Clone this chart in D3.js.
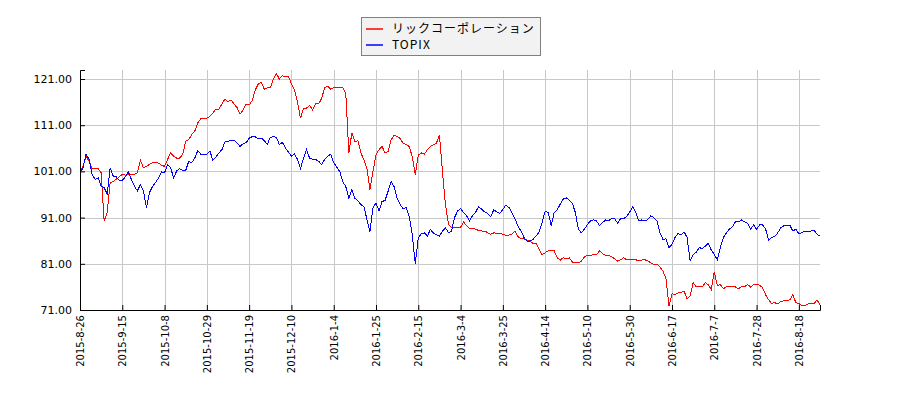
<!DOCTYPE html>
<html lang="ja">
<head>
<meta charset="UTF-8">
<title>リックコーポレーション vs TOPIX</title>
<script src="https://d3js.org/d3.v7.min.js"></script>
<style>
  body { margin: 0; background: #fff; }
  text { font-family: "DejaVu Sans", sans-serif; }
</style>
</head>
<body>
<script>
// relative price (start = 100ish), one value per trading day
const seriesNames = ['リックコーポレーション', 'TOPIX'];
const seriesColors = ['#ff0000', '#0000ff'];

const rickValues = [
  100.9, 102.1, 104.3, 103.2, 101.6, 101.6, 101.6, 100.7, 90.3, 92.1, 98.6, 98.8, 99.3, 99.8,
  100.4, 100.2, 100.4, 100.4, 100.4, 100.7, 103.4, 101.8, 102.1, 102.5, 102.9, 102.9, 102.8, 102.3,
  102.1, 103.6, 105.0, 104.3, 103.9, 103.9, 104.7, 107.5, 107.9, 109.0, 109.7, 111.5, 112.4, 112.5,
  112.5, 112.9, 113.6, 114.5, 114.5, 115.6, 116.7, 116.1, 116.5, 115.6, 114.8, 113.4, 114.3, 115.6,
  115.4, 116.3, 118.6, 119.9, 120.3, 118.8, 119.1, 119.1, 121.0, 122.2, 121.0, 121.7, 121.5, 121.6,
  119.9, 118.6, 116.1, 112.5, 114.7, 114.7, 115.3, 114.3, 115.6, 115.6, 116.8, 119.1, 119.4, 118.8,
  119.1, 119.2, 119.2, 119.2, 117.9, 105.0, 109.3, 107.5, 107.6, 105.0, 103.5, 101.7, 97.0, 101.0,
  104.6, 105.7, 106.4, 105.0, 105.3, 107.8, 108.8, 108.6, 108.1, 107.1, 106.8, 106.4, 104.2, 100.3,
  104.5, 105.0, 104.7, 105.7, 106.4, 106.8, 107.1, 108.9, 101.0, 93.8, 89.5, 88.8, 88.8, 88.8,
  88.9, 90.1, 89.2, 88.6, 88.7, 88.5, 88.2, 88.1, 88.1, 87.7, 87.4, 87.7, 87.6, 87.6,
  87.4, 87.2, 87.2, 87.4, 88.1, 86.9, 86.4, 86.4, 86.1, 85.9, 85.4, 85.4, 84.1, 83.0,
  83.4, 83.8, 83.8, 83.8, 82.3, 81.8, 82.3, 82.1, 82.3, 81.4, 81.2, 81.2, 81.6, 82.5,
  82.8, 82.8, 83.0, 83.0, 83.8, 83.2, 82.8, 82.8, 82.5, 82.1, 81.6, 81.9, 82.3, 81.9,
  81.9, 81.9, 81.9, 81.6, 81.8, 81.9, 81.6, 81.2, 80.9, 80.9, 80.3, 79.4, 77.9, 71.9,
  74.5, 74.3, 74.7, 74.8, 75.1, 73.4, 74.0, 76.9, 76.0, 76.0, 76.0, 76.9, 76.5, 75.4,
  79.3, 76.3, 76.5, 75.6, 76.0, 76.0, 76.0, 76.0, 75.6, 76.1, 76.0, 76.5, 76.0, 76.5,
  76.5, 76.4, 75.8, 74.3, 73.2, 72.4, 72.6, 72.3, 72.8, 73.0, 73.0, 73.2, 74.3, 72.6,
  72.4, 71.9, 71.9, 72.3, 72.4, 72.3, 73.2, 72.1
];

const topixValues = [
  100.7, 101.8, 104.7, 103.6, 100.4, 99.3, 99.6, 97.8, 97.5, 96.1, 101.8, 100.0, 99.8, 99.1,
  99.1, 99.8, 100.9, 99.3, 97.8, 96.8, 98.1, 96.8, 93.2, 96.4, 97.7, 98.6, 99.6, 100.9,
  100.7, 102.5, 101.8, 99.6, 101.1, 101.6, 101.2, 101.2, 103.2, 102.9, 103.9, 105.5, 104.7, 104.7,
  104.7, 105.4, 103.4, 104.1, 105.0, 105.7, 107.4, 107.5, 107.7, 107.7, 107.2, 106.4, 107.0, 107.2,
  108.2, 108.5, 108.5, 108.1, 108.2, 107.7, 106.8, 108.4, 108.5, 108.4, 106.8, 107.3, 106.1, 105.2,
  104.3, 104.8, 103.6, 101.6, 103.9, 105.7, 103.9, 103.6, 103.6, 103.2, 102.5, 103.6, 104.3, 104.7,
  102.9, 101.9, 101.0, 98.8, 97.7, 95.2, 97.0, 95.2, 94.7, 93.8, 93.4, 90.6, 88.0, 93.1,
  94.2, 92.4, 94.5, 94.7, 96.7, 98.8, 97.7, 95.2, 93.8, 92.9, 93.2, 91.3, 87.3, 81.0,
  86.6, 87.5, 87.7, 87.0, 88.4, 87.7, 87.3, 87.0, 88.1, 88.8, 87.7, 88.1, 91.0, 92.4,
  93.0, 92.1, 91.4, 90.3, 91.5, 92.2, 93.4, 92.8, 92.2, 91.9, 91.2, 92.7, 92.2, 91.9,
  92.8, 93.7, 93.2, 92.1, 90.8, 89.2, 88.1, 86.7, 85.9, 85.9, 86.3, 87.0, 87.9, 89.9,
  92.4, 92.1, 89.3, 92.1, 92.7, 93.9, 95.0, 95.3, 94.8, 94.1, 92.1, 88.5, 87.7, 88.5,
  89.5, 90.3, 90.5, 90.3, 89.3, 89.9, 90.5, 90.3, 90.8, 90.8, 89.8, 90.8, 90.8, 91.2,
  92.2, 93.4, 92.1, 90.3, 90.5, 90.3, 90.6, 91.4, 91.0, 90.3, 87.7, 86.3, 86.4, 84.5,
  85.2, 86.7, 87.6, 87.2, 87.9, 86.7, 81.6, 83.0, 83.5, 84.5, 84.3, 84.8, 85.4, 84.0,
  83.0, 81.9, 84.5, 86.7, 87.7, 88.5, 89.0, 90.1, 90.1, 90.5, 90.1, 89.8, 88.5, 89.4,
  88.5, 89.4, 89.4, 88.5, 86.1, 86.7, 86.9, 87.7, 88.8, 89.2, 89.2, 89.4, 88.1, 88.5,
  87.5, 87.7, 88.1, 87.9, 88.1, 88.3, 87.4, 87.0
];

// one label every 14 trading days, starting at day 0
const tickLabels = [
  '2015-8-26', '2015-9-15', '2015-10-8', '2015-10-29', '2015-11-19', '2015-12-10',
  '2016-1-4', '2016-1-25', '2016-2-15', '2016-3-4', '2016-3-25', '2016-4-14',
  '2016-5-10', '2016-5-30', '2016-6-17', '2016-7-7', '2016-7-28', '2016-8-18'
];
const tickStep = 14;
const yTickValues = [71, 81, 91, 101, 111, 121];

const width = 900, height = 400;
const margin = { left: 80, right: 80, top: 70, bottom: 90 };

const svg = d3.select('body').append('svg')
  .attr('width', width).attr('height', height);

svg.append('rect').attr('width', width).attr('height', height).attr('fill', '#fff');

const x = d3.scaleLinear()
  .domain([0, rickValues.length - 1])
  .range([margin.left, width - margin.right]);

const y = d3.scaleLinear()
  .domain([71, 122.95])
  .range([height - margin.bottom, margin.top]);

const xTicks = tickLabels.map((d, i) => i * tickStep);

// grid
const grid = svg.append('g').attr('stroke', '#c8c8c8').attr('stroke-width', 1)
  .attr('shape-rendering', 'crispEdges');
grid.selectAll('.gx').data(xTicks).join('line')
  .attr('x1', d => Math.round(x(d)) + 0.5).attr('x2', d => Math.round(x(d)) + 0.5)
  .attr('y1', margin.top).attr('y2', height - margin.bottom);
grid.selectAll('.gy').data(yTickValues).join('line')
  .attr('x1', margin.left).attr('x2', width - margin.right)
  .attr('y1', d => Math.round(y(d)) + 0.5).attr('y2', d => Math.round(y(d)) + 0.5);

// lines
const line = d3.line()
  .x((d, i) => x(i))
  .y(d => y(d));

[rickValues, topixValues].forEach((vals, k) => {
  svg.append('path')
    .datum(vals)
    .attr('fill', 'none')
    .attr('stroke', seriesColors[k])
    .attr('stroke-width', 1)
    .attr('shape-rendering', 'crispEdges')
    .attr('d', line);
});

// axes
const yAxis = svg.append('g')
  .attr('transform', `translate(${margin.left},0)`)
  .call(d3.axisLeft(y).tickValues(yTickValues).tickSize(-5).tickPadding(8)
    .tickFormat(d => d.toFixed(2)));
yAxis.selectAll('text').style('font-size', '11px').attr('fill', '#000');

const xAxis = svg.append('g')
  .attr('transform', `translate(0,${height - margin.bottom})`)
  .call(d3.axisBottom(x).tickValues(xTicks).tickSize(-5)
    .tickFormat((d, i) => tickLabels[i]));
xAxis.selectAll('text')
  .style('font-size', '10px')
  .attr('fill', '#000')
  .attr('text-anchor', 'end')
  .attr('transform', 'rotate(-90)')
  .attr('x', -5).attr('y', 0).attr('dy', '0.35em');

[yAxis, xAxis].forEach(a => {
  a.select('.domain').attr('stroke', '#000');
  a.selectAll('.tick line').attr('stroke', '#000');
});

// legend
const legend = svg.append('g');
legend.append('rect')
  .attr('x', 361.5).attr('y', 17.5).attr('width', 179).attr('height', 38)
  .attr('fill', '#f2f2f2').attr('stroke', '#808080');

const items = legend.selectAll('.item').data(seriesNames).join('g')
  .attr('transform', (d, i) => `translate(0,${29 + i * 16})`);
items.append('line')
  .attr('x1', 366).attr('x2', 383).attr('y1', 0).attr('y2', 0)
  .attr('stroke', (d, i) => seriesColors[i]).attr('stroke-width', 1.5);
items.append('text')
  .attr('x', 392).attr('y', 0).attr('dy', '0.35em')
  .style('font-family', '"Noto Sans CJK JP", "DejaVu Sans", sans-serif')
  .style('font-size', '12px')
  .style('letter-spacing', '1px')
  .attr('fill', '#000')
  .text(d => d);
</script>
</body>
</html>
